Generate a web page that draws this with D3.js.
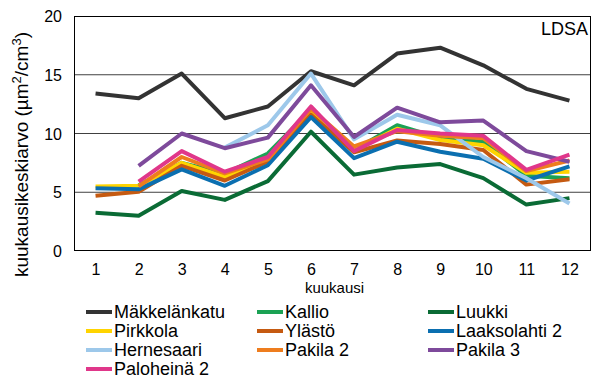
<!DOCTYPE html>
<html><head><meta charset="utf-8">
<script src="https://cdn.jsdelivr.net/npm/d3@7"></script>
<style>body{margin:0;background:#fff}svg{display:block;font-family:"Liberation Sans",Arial,sans-serif}</style>
</head><body><svg id="c" width="606" height="389"></svg>
<script>
const months = [1,2,3,4,5,6,7,8,9,10,11,12];
const yTicks = [0,5,10,15,20];
const seriesNames = ["Mäkkelänkatu","Kallio","Luukki","Pirkkola","Ylästö","Laaksolahti 2","Hernesaari","Pakila 2","Pakila 3","Paloheinä 2"];
const seriesColors = ["#333333","#1ba254","#0a6b35","#ffd400","#c55a11","#0b6fb0","#9dc8ea","#ee7d1e","#7e4a9b","#e0378a"];
const makkelankatu = [13.4,13.0,15.1,11.3,12.3,15.3,14.1,16.8,17.3,15.8,13.8,12.8];
const kallio       = [null,5.6,7.5,6.6,8.3,12.0,8.6,10.7,9.6,9.3,6.4,6.2];
const luukki       = [3.25,3.0,5.1,4.35,5.95,10.15,6.5,7.1,7.4,6.2,3.95,4.5];
const pirkkola     = [5.5,5.55,7.5,6.3,7.7,11.8,8.6,10.4,9.45,9.0,6.65,6.75];
const ylasto       = [4.7,5.05,7.25,6.0,7.6,11.6,8.4,9.4,9.1,8.6,5.65,6.1];
const laaksolahti2 = [5.35,5.25,6.95,5.55,7.3,11.4,7.9,9.3,8.45,7.85,6.0,7.2];
const hernesaari   = [null,null,null,8.8,10.7,15.1,9.5,11.6,10.7,8.0,6.2,4.05];
const pakila2      = [null,5.5,8.0,6.6,7.8,12.1,8.9,10.2,9.8,9.6,6.8,7.7];
const pakila3      = [null,7.25,10.0,8.75,9.65,14.1,9.7,12.2,10.95,11.1,8.5,7.6];
const paloheina2   = [null,5.9,8.5,6.75,8.0,12.3,8.5,10.3,10.0,9.8,6.9,8.2];
const seriesValues = [makkelankatu,kallio,luukki,pirkkola,ylasto,laaksolahti2,hernesaari,pakila2,pakila3,paloheina2];

const svg = d3.select("#c");
const L=74, R=591, T=16, B=251;
const x = d3.scalePoint().domain(months).range([L,R]).padding(0.5);
const y = d3.scaleLinear().domain([0,20]).range([B,T]);

// gridlines
svg.append("g").selectAll("line").data(yTicks.filter(t=>t>0&&t<20)).join("line")
  .attr("x1",L).attr("x2",R).attr("y1",d=>y(d)).attr("y2",d=>y(d))
  .attr("stroke","#404040").attr("stroke-width",1);
// frame
svg.append("rect").attr("x",L+0.5).attr("y",T+0.5).attr("width",R-L-1).attr("height",B-T-1)
  .attr("fill","none").attr("stroke","#000").attr("stroke-width",1);

// y axis
const yAxis = d3.axisLeft(y).tickValues(yTicks).tickSize(0).tickPadding(0);
const gy = svg.append("g").attr("transform",`translate(${L-12},0)`).call(yAxis);
gy.select(".domain").remove();
gy.selectAll("text").attr("font-size",16).attr("fill","#000").attr("font-family","Liberation Sans, Arial, sans-serif").attr("dy","0.35em");

// x axis
const xAxis = d3.axisBottom(x).tickSize(0).tickPadding(0);
const gx = svg.append("g").attr("transform",`translate(0,${B+13})`).call(xAxis);
gx.select(".domain").remove();
gx.selectAll("text").attr("font-size",16).attr("fill","#000").attr("font-family","Liberation Sans, Arial, sans-serif");

// axis titles
svg.append("text").attr("x",(L+R)/2+2).attr("y",293).attr("text-anchor","middle")
  .attr("font-size",15).text("kuukausi");
const yt = svg.append("text").attr("transform",`translate(28,154.5) rotate(-90)`)
  .attr("text-anchor","middle").attr("font-size",19);
yt.append("tspan").text("kuukausikeskiarvo (µm");
yt.append("tspan").attr("dy",-7).attr("font-size",13).text("2");
yt.append("tspan").attr("dy",7).text("/cm");
yt.append("tspan").attr("dy",-7).attr("font-size",13).text("3");
yt.append("tspan").attr("dy",7).text(")");

// LDSA label
svg.append("text").attr("x",588).attr("y",35).attr("text-anchor","end").attr("font-size",18).text("LDSA");

// lines
const line = d3.line().defined(d=>d.v!=null).x(d=>x(d.m)).y(d=>y(d.v));
seriesValues.forEach((vals,i)=>{
  svg.append("path").datum(months.map((m,j)=>({m, v: vals[j]})))
    .attr("d",line).attr("fill","none").attr("stroke",seriesColors[i])
    .attr("stroke-width",4).attr("stroke-linejoin","round");
});

// legend
const colX=[86,257,428], rowY=[312,331,350,369];
const lg = svg.append("g");
seriesNames.forEach((n,i)=>{
  const cx = colX[i%3], cy = rowY[Math.floor(i/3)];
  lg.append("line").attr("x1",cx).attr("x2",cx+26).attr("y1",cy).attr("y2",cy)
    .attr("stroke",seriesColors[i]).attr("stroke-width",4);
  lg.append("text").attr("x",cx+28).attr("y",cy).attr("dy","0.35em").attr("font-size",18).text(n);
});
</script></body></html>
